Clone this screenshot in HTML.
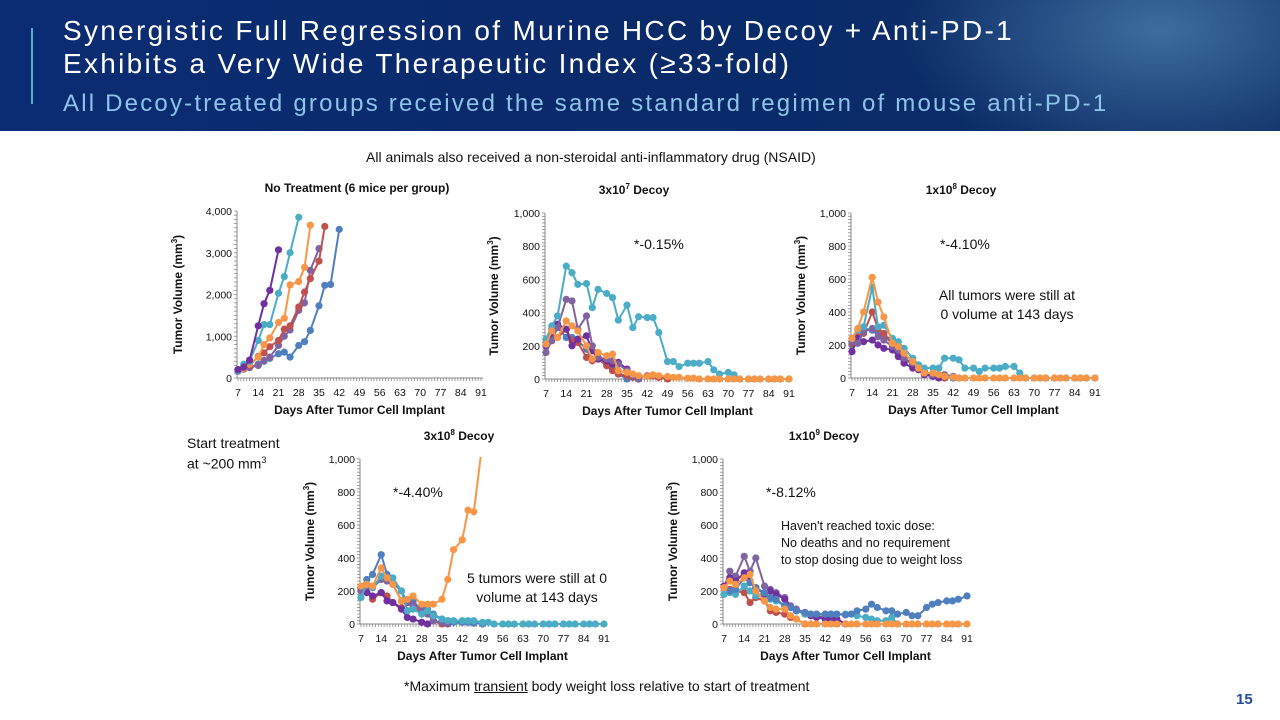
<!DOCTYPE html>
<html><head><meta charset="utf-8">
<style>
html,body{margin:0;padding:0;width:1280px;height:720px;overflow:hidden;background:#fff;font-family:"Liberation Sans",sans-serif;}
#hdr{position:absolute;left:0;top:0;width:1280px;height:131px;background:radial-gradient(ellipse 260px 140px at 1160px 30px,#3d6d9e 0%,rgba(30,70,140,0) 100%),linear-gradient(90deg,#0b2c72 0%,#0a2a6a 50%,#0c2f66 100%);}
.t{position:absolute;white-space:nowrap;}
svg{position:absolute;left:0;top:0;}
</style></head><body>
<div id="hdr"></div>
<div class="t" style="left:31px;top:28px;width:2px;height:76px;background:#4bb3d0"></div>
<div class="t" style="left:63px;top:14px;color:#fff;font-size:28px;line-height:33px;letter-spacing:2.3px">Synergistic Full Regression of Murine HCC by Decoy + Anti-PD-1<br>Exhibits a Very Wide Therapeutic Index (≥33-fold)</div>
<div class="t" style="left:63px;top:89px;color:#8ec3ea;font-size:24px;line-height:30px;letter-spacing:2.2px">All Decoy-treated groups received the same standard regimen of mouse anti-PD-1</div>
<div class="t" style="left:366px;top:149px;font-size:14px;color:#111">All animals also received a non-steroidal anti-inflammatory drug (NSAID)</div>
<div class="t" style="left:404px;top:678px;font-size:14px;color:#111">*Maximum <u>transient</u> body weight loss relative to start of treatment</div>
<div class="t" style="left:1236px;top:691px;font-size:15px;color:#1f4e9a;font-weight:bold">15</div>
<div class="t" style="left:187px;top:435px;font-size:14px;line-height:17px;color:#111">Start treatment<br>at ~200 mm<sup style="font-size:9px">3</sup></div>
<svg id="s" width="1280" height="720"></svg>
<script>
const days=[7,9,11,14,16,18,21,23,25,28,30,32,35,37,39,42,44,46,49,51,53,56,58,60,63,65,67,70,72,74,77,79,81,84,86,88,91];
const xTicks=[7,14,21,28,35,42,49,56,63,70,77,84,91];
const colors={blue:"#4f7fbd",red:"#c0504d",lav:"#8064a2",cyan:"#4bacc6",orange:"#f79646",purple:"#7030a0"};
// Chart 1: No treatment
const c1_purple=[200,260,430,1250,1780,2100,3070];
const c1_cyan=[180,330,400,900,1280,1280,2030,2430,3000,3850];
const c1_orange=[190,230,330,500,800,960,1330,1430,2230,2310,2650,3660];
const c1_red=[200,240,300,520,600,750,900,1170,1250,1700,2060,2380,2800,3630];
const c1_lav=[170,210,250,300,420,500,780,1000,1150,1620,1800,2580,3100];
const c1_blue=[160,220,250,330,400,470,580,620,500,780,870,1140,1730,2220,2240,3560];
const c1_yTicks=[0,1000,2000,3000,4000];
// Chart 2: 3x10^7
const c2_blue=[220,300,310,250,250,230,180,110,120,100,60,30,0];
const c2_red=[210,250,250,300,230,220,130,110,120,80,50,30,20,10,10,20,20,10,0];
const c2_purple=[200,260,330,300,200,240,260,170,120,110,90,100,60,20,0];
const c2_lav=[160,230,310,480,470,300,380,200,130,120,110,90,50,20,0];
const c2_cyan=[240,320,380,680,640,570,575,430,540,515,490,355,445,310,375,370,370,280,105,105,75,95,95,95,105,55,30,40,25,0,0,0,0,0,0,0,0];
const c2_orange=[210,290,250,350,320,290,200,120,160,140,150,50,40,30,20,15,25,20,15,10,10,5,5,0,0,0,0,0,0,0,0,0,0,0,0,0,0];
const c234_yTicks=[0,200,400,600,800,1000];
// Chart 3: 1x10^8
const c3_blue=[200,230,300,290,280,260,230,160,110,100,60,30,30,20,10,0];
const c3_red=[210,250,270,400,300,270,200,160,120,80,60,30,20,10,0];
const c3_purple=[160,240,220,230,200,180,170,130,90,60,50,20,10,0];
const c3_lav=[220,210,280,300,250,230,190,170,120,90,60,40,20,20,20,10,0];
const c3_cyan=[240,290,310,550,310,320,240,220,180,120,80,60,60,60,120,120,110,60,60,40,60,60,60,70,70,30,0,0,0,0,0,0,0,0,0,0,0];
const c3_orange=[240,300,400,610,460,370,210,190,150,100,60,30,30,20,10,5,0,0,0,0,0,0,0,0,0,0,0,0,0,0,0,0,0,0,0,0,0];
// Chart 4: 3x10^8
const c4_blue=[220,270,300,420,300,250,200,130,140,80,90,60,30,20,10,10,10,5,0];
const c4_red=[210,230,150,190,170,130,100,80,110,70,70,20,0];
const c4_purple=[200,190,170,190,140,130,90,40,30,10,0];
const c4_lav=[200,230,220,270,260,240,140,130,120,90,60,20,10,0];
const c4_orange=[230,240,230,340,280,240,140,150,170,120,120,120,150,270,450,510,690,680,1100];
const c4_cyan=[160,240,220,290,280,280,200,80,90,60,80,50,30,20,20,20,20,20,10,10,0,0,0,0,0,0,0,0,0,0,0,0,0,0,0,0,0];
// Chart 5: 1x10^9
const c5_lav=[220,320,290,410,320,400,230,210,190,160,110,90,70,60,50,40,40,30,0];
const c5_purple=[230,280,260,310,260,220,180,200,180,150,100,80,60,50,40,30,30,30,0];
const c5_red=[220,210,200,190,130,160,140,80,70,60,40,30,0];
const c5_cyan=[180,190,180,230,200,170,190,150,140,110,100,80,60,60,60,60,60,60,60,60,50,40,30,20,20,40,0];
const c5_blue=[220,200,210,280,250,220,190,160,150,110,100,80,70,60,60,60,60,60,55,60,80,90,120,100,80,80,60,70,50,50,100,120,130,140,140,150,170];
const c5_orange=[220,260,240,280,300,200,140,100,90,90,50,30,0,0,0,0,0,0,0,0,0,0,0,0,0,0,0,0,0,0,0,0,0,0,0,0,0];

const NS="http://www.w3.org/2000/svg";
const svg=document.getElementById('s');
function mk(tag,attrs,parent){const e=document.createElementNS(NS,tag);for(const k in attrs)e.setAttribute(k,attrs[k]);(parent||svg).appendChild(e);return e;}
function fmt(v){return v.toLocaleString('en-US');}
let cid=0;
function chart(cfg){
  cid++;
  const g=mk('g',{});
  
  
  const x=d=>cfg.x0+(d-7)*(cfg.x1-cfg.x0)/84;
  const y=v=>cfg.y0-v*(cfg.y0-cfg.y1)/cfg.ymax;
  const cp=mk('clipPath',{id:'cp'+cid},g);
  mk('rect',{x:cfg.x0-10,y:cfg.y1-2,width:cfg.x1-cfg.x0+20,height:cfg.y0-cfg.y1+10},cp);
  const ax=mk('line',{x1:cfg.x0-1,y1:cfg.y1,x2:cfg.x0-1,y2:cfg.y0,stroke:'#888','stroke-width':1},g);
  
  
  const axx=mk('line',{x1:cfg.x0-1,y1:cfg.y0,x2:cfg.x1+2,y2:cfg.y0,stroke:'#888','stroke-width':1},g);
  
  
  for(let d=7;d<=91;d++){mk('line',{x1:x(d),y1:cfg.y0,x2:x(d),y2:cfg.y0+3,stroke:'#888','stroke-width':0.8},g);}
  const step=cfg.yTicks[1]/10;
  for(let v=0;v<=cfg.ymax;v+=step){mk('line',{x1:cfg.x0-4,y1:y(v),x2:cfg.x0-1,y2:y(v),stroke:'#888','stroke-width':0.8},g);}
  cfg.yTicks.forEach(v=>{
    const t=mk('text',{x:cfg.x0-6,y:y(v)+4,'font-size':10.5,'text-anchor':'end',fill:'#111'},g);t.textContent=fmt(v);
    
    
  });
  xTicks.forEach(d=>{
    const t=mk('text',{x:x(d),y:cfg.y0+18,'font-size':10.5,'text-anchor':'middle',fill:'#111'},g);t.textContent=d;
    
    
  });
  const xt=mk('text',{x:(cfg.x0+cfg.x1)/2,y:cfg.y0+36,'font-size':12,'font-weight':'bold','text-anchor':'middle',fill:'#111'},g);
  xt.textContent='Days After Tumor Cell Implant';
  
  
  const yt=mk('text',{transform:`translate(${cfg.yt},${(cfg.y0+cfg.y1)/2}) rotate(-90)`,'font-size':12,'font-weight':'bold','text-anchor':'middle',fill:'#111'},g);
  yt.innerHTML='Tumor Volume (mm<tspan dy="-5" font-size="8">3</tspan><tspan dy="5">)</tspan>';
  
  
  const tt=mk('text',{x:cfg.tx,y:cfg.y1-19,'font-size':12,'font-weight':'bold','text-anchor':'middle',fill:'#111'},g);
  tt.innerHTML=cfg.title;
  
  
  const pg=mk('g',{'clip-path':`url(#cp${cid})`},g);
  cfg.series.forEach(([vals,col,nm])=>{
    const sg=mk('g',{},pg);
    
    
    const pts=vals.map((v,i)=>[x(days[i]),y(v)]);
    mk('polyline',{points:pts.map(p=>p.join(',')).join(' '),fill:'none',stroke:colors[col],'stroke-width':2},sg);
    pts.forEach(p=>{const c=mk('circle',{cx:p[0],cy:p[1],r:3.6,fill:colors[col]},sg);
      
      });
  });
  (cfg.notes||[]).forEach(n=>{
    const t=mk('text',{x:n[0],y:n[1],'font-size':n[3]||14,'text-anchor':n[4]||'start',fill:'#111'},g);t.textContent=n[2];
    
    
  });
}
chart({name:'chart-no-treatment',x0:238,x1:481,y0:378,y1:211,ymax:4000,yTicks:c1_yTicks,yt:182,tx:357,title:'No Treatment (6 mice per group)',
 series:[[c1_blue,'blue','blue'],[c1_lav,'lav','lavender'],[c1_red,'red','red'],[c1_orange,'orange','orange'],[c1_cyan,'cyan','cyan'],[c1_purple,'purple','purple']]});
chart({name:'chart-3e7-decoy',x0:546,x1:789,y0:379,y1:213,ymax:1000,yTicks:c234_yTicks,yt:498,tx:634,title:'3x10<tspan dy="-5" font-size="8">7</tspan><tspan dy="5"> Decoy</tspan>',
 series:[[c2_blue,'blue','blue'],[c2_red,'red','red'],[c2_purple,'purple','purple'],[c2_lav,'lav','lavender'],[c2_cyan,'cyan','cyan'],[c2_orange,'orange','orange']],
 notes:[[634,249,'*-0.15%']]});
chart({name:'chart-1e8-decoy',x0:852,x1:1095,y0:378,y1:213,ymax:1000,yTicks:c234_yTicks,yt:805,tx:961,title:'1x10<tspan dy="-5" font-size="8">8</tspan><tspan dy="5"> Decoy</tspan>',
 series:[[c3_blue,'blue','blue'],[c3_red,'red','red'],[c3_purple,'purple','purple'],[c3_lav,'lav','lavender'],[c3_cyan,'cyan','cyan'],[c3_orange,'orange','orange']],
 notes:[[940,249,'*-4.10%'],[1007,300,'All tumors were still at',14,'middle'],[1007,319,'0 volume at 143 days',14,'middle']]});
chart({name:'chart-3e8-decoy',x0:361,x1:604,y0:624,y1:459,ymax:1000,yTicks:c234_yTicks,yt:314,tx:459,title:'3x10<tspan dy="-5" font-size="8">8</tspan><tspan dy="5"> Decoy</tspan>',
 series:[[c4_blue,'blue','blue'],[c4_red,'red','red'],[c4_purple,'purple','purple'],[c4_lav,'lav','lavender'],[c4_cyan,'cyan','cyan'],[c4_orange,'orange','orange']],
 notes:[[393,497,'*-4.40%'],[537,583,'5 tumors were still at 0',14,'middle'],[537,602,'volume at 143 days',14,'middle']]});
chart({name:'chart-1e9-decoy',x0:724,x1:967,y0:624,y1:459,ymax:1000,yTicks:c234_yTicks,yt:677,tx:824,title:'1x10<tspan dy="-5" font-size="8">9</tspan><tspan dy="5"> Decoy</tspan>',
 series:[[c5_lav,'lav','lavender'],[c5_purple,'purple','purple'],[c5_red,'red','red'],[c5_cyan,'cyan','cyan'],[c5_blue,'blue','blue'],[c5_orange,'orange','orange']],
 notes:[[766,497,'*-8.12%'],[781,530,"Haven't reached toxic dose:",12.5],[781,547,'No deaths and no requirement',12.5],[781,564,'to stop dosing due to weight loss',12.5]]});
</script>
</body></html>
